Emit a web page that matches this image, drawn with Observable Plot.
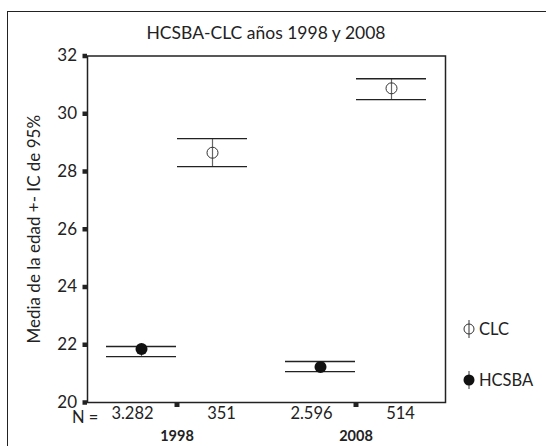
<!DOCTYPE html>
<html>
<head>
<meta charset="utf-8">
<script src="https://cdn.jsdelivr.net/npm/d3@7"></script>
<script src="https://cdn.jsdelivr.net/npm/@observablehq/plot@0.6"></script>
<style>
  html, body { margin: 0; padding: 0; background: #fff; overflow: hidden; }
  #wrap { position: relative; width: 546px; height: 446px; font-family: Lato, sans-serif; color: #222; }
  #border { position: absolute; left: 7px; top: 10.5px; width: 620px; height: 520px; border: 1.5px solid #222; box-sizing: border-box; }
  #chart { position: absolute; left: 0; top: 0; }
  #title { position: absolute; left: 0; width: 532px; top: 22px; line-height: 22px; text-align: center; font-size: 17.5px; }
  #nlab { position: absolute; left: 72px; top: 407px; line-height: 20px; font-size: 16.5px; }
  .leg { position: absolute; left: 459px; height: 24px; line-height: 24px; font-size: 16.5px; }
  .leg svg { position: absolute; left: 0; top: 0; }
  .leg span { position: absolute; left: 20px; top: 0; white-space: nowrap; }
</style>
</head>
<body>
<div id="wrap">
  <div id="border"></div>
  <div id="chart"></div>
  <div id="title">HCSBA-CLC años 1998 y 2008</div>
  <div id="nlab">N =</div>
  <div class="leg" style="top:317px">
    <svg width="20" height="24"><line x1="10" y1="3" x2="10" y2="21" stroke="#555" stroke-width="1.2"/><circle cx="10" cy="12" r="5" fill="none" stroke="#333" stroke-width="1"/></svg>
    <span>CLC</span>
  </div>
  <div class="leg" style="top:368px">
    <svg width="20" height="24"><line x1="10" y1="3" x2="10" y2="21" stroke="#555" stroke-width="1.2"/><circle cx="10" cy="12" r="5.5" fill="#111"/></svg>
    <span>HCSBA</span>
  </div>
</div>
<script>
// Data
const years  = ["1998", "1998", "2008", "2008"];
const groups = ["HCSBA", "CLC", "HCSBA", "CLC"];
const means  = [21.85, 28.65, 21.23, 30.88];
const lower  = [21.59, 28.17, 21.07, 30.49];
const upper  = [21.94, 29.14, 21.42, 31.21];
const nCases = [3282, 351, 2596, 514];
const yTicks = [20, 22, 24, 26, 28, 30, 32];
const yearDomain = ["1998", "2008"];
const groupDomain = ["HCSBA", "CLC"];

const data = years.map((y, i) => ({
  year: y, group: groups[i], mean: means[i], lo: lower[i], hi: upper[i], n: nCases[i]
}));

const fmtN = d3.formatLocale({decimal: ",", thousands: ".", grouping: [3], currency: ["", ""]}).format(",d");

const chart = Plot.plot({
  width: 546,
  height: 446,
  marginLeft: 87,
  marginRight: 101,
  marginTop: 55.5,
  marginBottom: 44,
  style: {fontFamily: "Lato, sans-serif", fontSize: "17px", color: "#222", background: "transparent", overflow: "visible"},
  fx: {domain: yearDomain, padding: 0, label: null},
  x: {domain: groupDomain, paddingInner: 0.02, paddingOuter: 0.26, axis: null},
  y: {domain: [20, 32]},
  marks: [
    Plot.frame({facet: "super", stroke: "#222", strokeWidth: 1.5}),
    Plot.axisY({ticks: yTicks, tickSize: 4.5, strokeWidth: 4.5, tickPadding: 6,
      label: "Media de la edad +- IC de 95%", labelAnchor: "center", labelArrow: "none", labelOffset: 60}),
    Plot.axisFx({anchor: "bottom", tickSize: 5, strokeWidth: 5, tickPadding: 23, fontWeight: "bold", fontSize: 14.5, label: null}),
    Plot.ruleX(data, {fx: "year", x: "group", y1: "lo", y2: "hi", stroke: "#666", strokeWidth: 1.2}),
    Plot.tickY(data, {fx: "year", x: "group", y: "hi", stroke: "#222", strokeWidth: 1.4}),
    Plot.tickY(data, {fx: "year", x: "group", y: "lo", stroke: "#222", strokeWidth: 1.4}),
    Plot.dot(data, {filter: d => d.group === "CLC", fx: "year", x: "group", y: "mean", r: 5.5, stroke: "#333", fill: "none", strokeWidth: 1}),
    Plot.dot(data, {filter: d => d.group === "HCSBA", fx: "year", x: "group", y: "mean", r: 6, fill: "#111", stroke: "none"}),
    Plot.text(data, {filter: d => d.group === "HCSBA", fx: "year", x: "group", text: d => fmtN(d.n), frameAnchor: "bottom", dy: 16, dx: -9, fill: "#222", fontSize: 16.5}),
    Plot.text(data, {filter: d => d.group === "CLC", fx: "year", x: "group", text: d => fmtN(d.n), frameAnchor: "bottom", dy: 16, dx: 9, fill: "#222", fontSize: 16.5})
  ]
});
document.getElementById("chart").appendChild(chart);
</script>
</body>
</html>
